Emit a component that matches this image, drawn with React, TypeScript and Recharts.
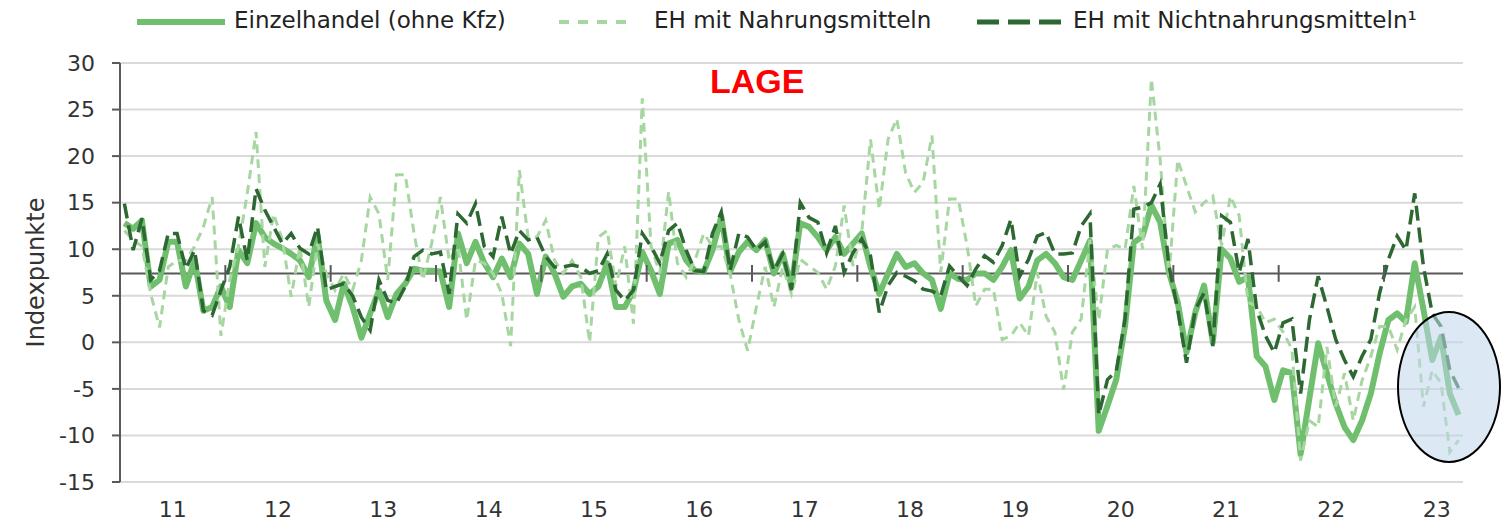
import React from "react";
import { LineChart, Line, XAxis, YAxis, CartesianGrid, ReferenceLine, Legend } from "recharts";

// monthly values Jan 2011 .. Sep 2023, year labels on the axis
const years = ["11", "12", "13", "14", "15", "16", "17", "18", "19", "20", "21", "22", "23"];

const einzelhandel = [
  12.8, 12.2, 13.1, 6.0, 6.7, 10.8, 10.8, 6.0, 8.8, 3.4, 3.8, 6.0,
  3.8, 9.9, 8.5, 12.8, 11.3, 10.6, 10.1, 9.5, 8.8, 7.0, 11.5, 4.5,
  2.4, 6.3, 3.8, 0.5, 3.1, 5.6, 2.7, 5.2, 6.3, 7.9, 7.7, 7.7,
  7.6, 3.8, 11.7, 8.5, 10.8, 8.5, 7.0, 9.0, 7.0, 10.6, 9.5, 5.2,
  9.2, 7.4, 4.9, 6.0, 6.3, 5.2, 6.0, 8.5, 3.8, 3.8, 5.5, 9.7,
  7.7, 5.2, 10.6, 11.0, 8.8, 7.7, 7.6, 9.9, 13.5, 7.6, 9.7, 10.8,
  9.9, 11.0, 7.4, 9.5, 6.0, 12.8, 12.4, 11.3, 9.9, 11.3, 9.5, 10.6,
  11.7, 8.1, 5.2, 7.4, 9.5, 8.1, 8.5, 7.4, 6.7, 3.6, 7.4, 6.8,
  6.7, 7.4, 7.4, 6.7, 8.1, 9.9, 4.7, 6.0, 8.8, 9.5, 8.5, 7.0,
  6.7, 8.8, 10.9, -9.5, -6.8, -4.0, 1.8, 10.7, 11.4, 14.7, 12.9, 7.5,
  4.3, -1.1, 3.2, 6.1, 0.0, 10.0, 9.0, 6.5, 7.0, -1.5, -2.6, -6.2,
  -3.0, -3.3, -12.0, -6.0, -0.1, -3.3, -6.6, -9.1, -10.5, -8.4, -5.5, -1.2,
  2.4, 3.1, 2.2, 8.5, 3.5, -1.9, 0.6, -5.5, -7.8,
];

const nahrung = [
  12.0, 11.0, 10.3, 5.2, 1.6, 8.1, 8.8, 8.8, 10.3, 12.4, 15.6, 0.7,
  6.7, 10.3, 16.0, 22.6, 8.1, 13.8, 11.0, 4.9, 10.3, 3.8, 10.6, 7.4,
  5.6, 7.4, 5.6, 8.8, 15.6, 13.8, 6.7, 18.0, 18.0, 11.7, 6.7, 10.6,
  15.6, 8.8, 10.3, 2.4, 8.8, 8.5, 7.4, 5.2, -0.4, 18.5, 11.3, 11.3,
  13.1, 8.8, 7.4, 8.8, 7.0, 0.0, 11.3, 12.0, 6.0, 10.3, 2.0, 26.2,
  10.3, 7.4, 16.2, 8.5, 7.0, 8.8, 11.7, 10.3, 10.3, 7.4, 2.4, -0.9,
  3.8, 8.1, 3.8, 8.1, 5.2, 8.9, 8.2, 7.5, 5.7, 8.2, 14.7, 8.2,
  11.8, 21.8, 14.3, 21.8, 24.0, 18.2, 16.1, 17.2, 22.2, 7.5, 15.4, 15.4,
  10.4, 3.9, 5.7, 5.7, 0.3, 0.7, 2.1, 0.7, 7.5, 2.8, 1.1, -5.1,
  1.1, 2.5, 11.0, 2.4, 10.0, 10.4, 10.0, 16.8, 10.0, 28.3, 19.6, 7.1,
  19.6, 16.8, 14.0, 15.0, 15.7, 10.4, 15.7, 13.6, 4.3, 3.9, 2.1, 2.5,
  1.1, -0.7, -12.7, -8.4, -9.1, -0.5, -6.9, -3.3, -8.4, -4.1, -1.5, 1.7,
  1.7, -0.8, 2.4, 3.8, -6.9, -3.0, -4.4, -11.8, -10.5,
];

const nichtNahrung = [
  14.9, 9.9, 13.3, 6.7, 7.7, 11.7, 11.7, 7.9, 9.9, 3.4, 2.9, 5.6,
  8.1, 13.5, 8.8, 16.5, 14.2, 12.4, 10.6, 11.7, 10.1, 9.5, 12.4, 5.6,
  6.0, 6.3, 5.0, 2.7, 1.3, 6.7, 4.5, 4.2, 6.0, 9.2, 9.9, 9.5,
  9.7, 5.2, 13.8, 12.8, 14.9, 10.3, 9.2, 13.5, 9.5, 12.0, 11.0, 11.3,
  9.2, 8.1, 8.1, 8.3, 8.1, 7.4, 7.7, 9.5, 5.6, 4.5, 5.6, 11.7,
  10.3, 8.5, 12.0, 12.8, 9.9, 7.7, 7.6, 11.7, 14.0, 7.7, 11.7, 11.3,
  9.9, 10.8, 7.7, 9.5, 5.6, 15.0, 13.4, 12.9, 9.6, 12.5, 7.5, 9.6,
  11.1, 9.3, 3.2, 6.1, 7.5, 7.1, 6.6, 5.7, 5.5, 5.0, 8.2, 7.1,
  6.1, 7.9, 9.3, 8.6, 10.4, 13.2, 7.1, 8.9, 11.4, 11.8, 9.5, 9.5,
  9.6, 12.5, 13.8, -7.8, -4.0, -3.1, 2.5, 14.3, 14.5, 15.0, 17.0, 8.2,
  3.5, -2.2, 3.5, 5.3, -0.4, 13.6, 12.9, 7.5, 11.1, 3.5, 0.7, -1.1,
  2.1, 2.5, -5.5, 2.4, 7.1, 3.8, 0.3, -1.9, -3.7, -1.5, 0.3, 5.3,
  8.9, 11.4, 9.9, 16.0, 8.1, 3.1, 1.7, -3.0, -4.9,
];

const yTicks = [-15, -10, -5, 0, 5, 10, 15, 20, 25, 30];
const AXIS_CROSS = 7.4; // horizontal axis crosses here

const data = einzelhandel.map((v, i) => ({ i, eh: v, nm: nahrung[i], nnm: nichtNahrung[i] }));
const yearCenters = years.map((_, k) => k * 12 + 5.5);
const yearBounds = years.slice(1).map((_, k) => (k + 1) * 12 - 0.5);

const FONT = "'DejaVu Sans', sans-serif";
const SOLID = "#70bf6e";
const LIGHT = "#a6d7a0";
const DARK = "#2d6832";

function LegendBox() {
  const txt = { fontSize: 23, color: "#222", fontFamily: FONT, whiteSpace: "nowrap" as const };
  return (
    <div style={{ position: "relative", height: 44 }}>
      <svg style={{ position: "absolute", left: 137, top: 18 }} width={88} height={8}>
        <line x1={0} y1={4} x2={88} y2={4} stroke={SOLID} strokeWidth={6} />
      </svg>
      <span style={{ ...txt, position: "absolute", left: 234, top: 7 }}>Einzelhandel (ohne Kfz)</span>
      <svg style={{ position: "absolute", left: 559, top: 19 }} width={72} height={6}>
        <line x1={0} y1={3} x2={72} y2={3} stroke={LIGHT} strokeWidth={4} strokeDasharray="10 9" />
      </svg>
      <span style={{ ...txt, position: "absolute", left: 654, top: 7 }}>EH mit Nahrungsmitteln</span>
      <svg style={{ position: "absolute", left: 977, top: 18 }} width={86} height={8}>
        <line x1={0} y1={4} x2={86} y2={4} stroke={DARK} strokeWidth={5} strokeDasharray="22 9" />
      </svg>
      <span style={{ ...txt, position: "absolute", left: 1073, top: 7 }}>EH mit Nichtnahrungsmitteln¹</span>
    </div>
  );
}

export default function App() {
  return (
    <div style={{ position: "absolute", left: 0, top: 0, width: 1504, height: 526, background: "#fff" }}>
      <LineChart width={1504} height={526} data={data} margin={{ top: 19, right: 41, bottom: 0, left: 0 }}>
        <Legend verticalAlign="top" align="left" content={() => <LegendBox />}
          wrapperStyle={{ top: 0, left: 0, width: 1504, height: 44 }} />
        <CartesianGrid vertical={false} stroke="#d9d9d9" strokeWidth={2} />
        <XAxis dataKey="i" type="number" domain={[-0.5, 152.5]} ticks={yearCenters}
          tickFormatter={(v: number) => years[Math.round((v - 5.5) / 12)]}
          axisLine={false} tickLine={false} tickSize={0} tickMargin={19} height={44}
          tick={{ fontSize: 22, fill: "#333", fontFamily: FONT }} interval={0} />
        <YAxis domain={[-15, 30]} ticks={yTicks} width={120} interval={0}
          axisLine={{ stroke: "#595959", strokeWidth: 2 }} tickLine={{ stroke: "#595959", strokeWidth: 2 }}
          tickSize={8} tickMargin={17} tick={{ fontSize: 22, fill: "#333", fontFamily: FONT }}
          label={{ value: "Indexpunkte", angle: -90, position: "center", dx: -25, fontSize: 24, fill: "#333", fontFamily: FONT }} />
        <ReferenceLine y={AXIS_CROSS} stroke="#595959" strokeWidth={2} />
        <Line type="linear" dataKey="eh" stroke={SOLID} strokeWidth={6} dot={false} strokeLinejoin="round" isAnimationActive={false} />
        <Line type="linear" dataKey="nm" stroke={LIGHT} strokeWidth={3} strokeDasharray="9 6" dot={false} isAnimationActive={false} />
        <Line type="linear" dataKey="nnm" stroke={DARK} strokeWidth={3.5} strokeDasharray="15 7" dot={false} isAnimationActive={false} />
        {yearBounds.map((b) => (
          <ReferenceLine key={b} segment={[{ x: b, y: AXIS_CROSS - 0.9 }, { x: b, y: AXIS_CROSS + 0.9 }]}
            stroke="#595959" strokeWidth={2} />
        ))}
      </LineChart>
      <div style={{ position: "absolute", left: 710, top: 62, fontFamily: "'Liberation Sans', Arial, sans-serif",
        fontWeight: "bold", fontSize: 34, color: "#ff0000", lineHeight: "38px" }}>LAGE</div>
      <div style={{ position: "absolute", left: 1397, top: 311, width: 104, height: 152, borderRadius: "50%",
        border: "2.5px solid #000", background: "rgba(191,215,237,0.55)", boxSizing: "border-box" }} />
    </div>
  );
}
